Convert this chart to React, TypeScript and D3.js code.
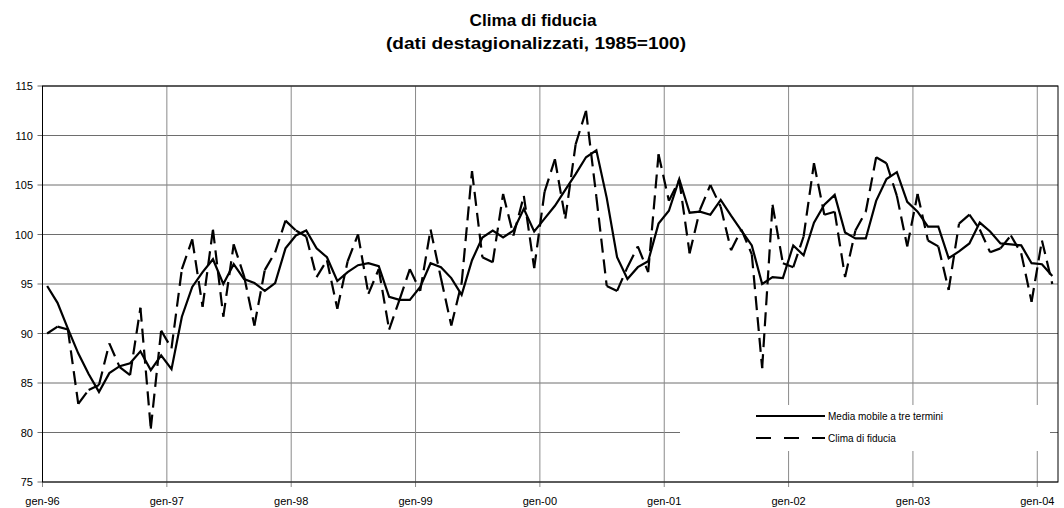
import React from "react";
import * as d3 from "d3";

// mesi da gen-96 a feb-04
const clima: number[] = [
  90.0, 90.7, 90.4, 82.9, 84.3, 84.8, 89.0, 86.6, 85.8, 92.6, 80.4, 90.3,
  88.5, 96.5, 99.5, 92.7, 100.5, 91.7, 99.0, 95.8, 90.8, 96.4, 98.2, 101.4,
  100.4, 99.8, 95.7, 97.4, 92.5, 97.3, 100.0, 94.0, 96.5, 90.4, 93.4, 96.5,
  94.3, 100.5, 95.6, 90.8, 95.1, 106.4, 97.7, 97.2, 104.1, 99.9, 103.9, 96.6,
  104.3, 107.6, 101.6, 109.1, 112.5, 103.8, 94.8, 94.3, 96.7, 98.8, 96.2, 108.1,
  103.4, 105.5, 98.1, 102.5, 105.0, 102.8, 98.4, 100.5, 98.0, 86.5, 103.0, 97.1,
  96.7, 99.8, 107.2, 102.0, 102.3, 95.7, 100.4, 102.3, 107.8, 107.2, 103.9, 98.8,
  104.1, 99.4, 98.8, 94.4, 101.1, 102.0, 100.5, 98.2, 98.6, 99.9, 98.1, 93.2,
  99.4, 95.0,
];

const mediaMobile: number[] = [
  94.8, 93.1, 90.5, 88.0, 85.9, 84.1, 86.0, 86.7, 87.0, 88.2, 86.3, 87.8,
  86.4, 91.7, 94.7, 96.2, 97.5, 95.0, 97.0, 95.5, 95.1, 94.3, 95.1, 98.6,
  99.9, 100.4, 98.6, 97.7, 95.3, 96.2, 96.9, 97.1, 96.8, 93.7, 93.4, 93.4,
  94.7, 97.1, 96.7, 95.6, 93.9, 97.4, 99.7, 100.4, 99.7, 100.4, 102.6, 100.3,
  101.6, 102.9, 104.5, 106.1, 107.8, 108.5, 103.7, 97.7, 95.5, 96.7, 97.3, 101.1,
  102.4, 105.6, 102.2, 102.3, 102.0, 103.5, 101.9, 100.4, 98.9, 95.0, 95.7, 95.6,
  98.9, 97.9, 101.2, 103.0, 104.0, 100.2, 99.6, 99.6, 103.4, 105.6, 106.3, 103.3,
  102.3, 100.8, 100.8, 97.6, 98.3, 99.1, 101.2, 100.3, 99.1, 99.0, 98.9, 97.1,
  97.0, 95.8,
];

const yearLabels = ["gen-96", "gen-97", "gen-98", "gen-99", "gen-00", "gen-01", "gen-02", "gen-03", "gen-04"];
const yTicks = [75, 80, 85, 90, 95, 100, 105, 110, 115];

const W = 1064;
const H = 508;
const font = "'Liberation Sans', Arial, sans-serif";

export default function App() {
  const left = 42.5;
  const right = 1058;
  const top = 86;
  const bottom = 482;

  // asse dei mesi: un punto a metà mese circa
  const x = d3.scaleLinear().domain([0, 98]).range([left, right]);
  const y = d3.scaleLinear().domain([75, 115]).range([bottom, top]);
  const px = (i: number) => x(i + 0.45);

  const line = d3
    .line<number>()
    .x((_, i) => px(i))
    .y((d) => y(d));

  // Excel ricomincia il tratteggio ad ogni segmento
  const segs = d3.pairs(clima.map((v, i) => [px(i), y(v)] as [number, number]));

  const legX = 680;
  const legY = 405;

  return (
    <svg
      width={W}
      height={H}
      style={{ position: "absolute", left: 0, top: 0, background: "#fff" }}
      fontFamily={font}
    >
      <text x={533} y={26} textAnchor="middle" fontSize={16} fontWeight="bold" textLength={127} lengthAdjust="spacingAndGlyphs">
        Clima di fiducia
      </text>
      <text x={536} y={49} textAnchor="middle" fontSize={16} fontWeight="bold" textLength={300} lengthAdjust="spacingAndGlyphs">
        (dati destagionalizzati, 1985=100)
      </text>

      {/* griglia orizzontale */}
      {yTicks.map((t) => (
        <g key={t}>
          <line x1={left - 5} x2={right} y1={y(t)} y2={y(t)} stroke="#6e6e6e" strokeWidth={1} />
          <text x={33} y={y(t) + 4} textAnchor="end" fontSize={11}>
            {t}
          </text>
        </g>
      ))}

      {/* griglia verticale */}
      {yearLabels.map((lab, k) => (
        <g key={lab}>
          <line x1={x(k * 12)} x2={x(k * 12)} y1={top} y2={bottom + 5} stroke="#8a8a8a" strokeWidth={1} />
          <text x={x(k * 12)} y={505} textAnchor="middle" fontSize={11}>
            {lab}
          </text>
        </g>
      ))}

      {/* legenda (sfondo bianco sopra la griglia) */}
      <rect x={legX} y={legY} width={370} height={46} fill="#fff" />

      <rect x={left} y={top} width={right - left} height={bottom - top} fill="none" stroke="#000" strokeWidth={1} />

      <path d={line(mediaMobile) ?? ""} fill="none" stroke="#000" strokeWidth={2.2} strokeLinejoin="miter" />

      {segs.map(([a, b], i) => (
        <line
          key={i}
          x1={a[0]}
          y1={a[1]}
          x2={b[0]}
          y2={b[1]}
          stroke="#000"
          strokeWidth={2.2}
          strokeDasharray="14,7"
        />
      ))}

      <line x1={756} x2={825} y1={416} y2={416} stroke="#000" strokeWidth={2.2} />
      <text x={828} y={419.5} fontSize={10}>
        Media mobile a tre termini
      </text>
      <line x1={756} x2={825} y1={438} y2={438} stroke="#000" strokeWidth={2.2} strokeDasharray="15,13" />
      <text x={828} y={441.5} fontSize={10}>
        Clima di fiducia
      </text>
    </svg>
  );
}
